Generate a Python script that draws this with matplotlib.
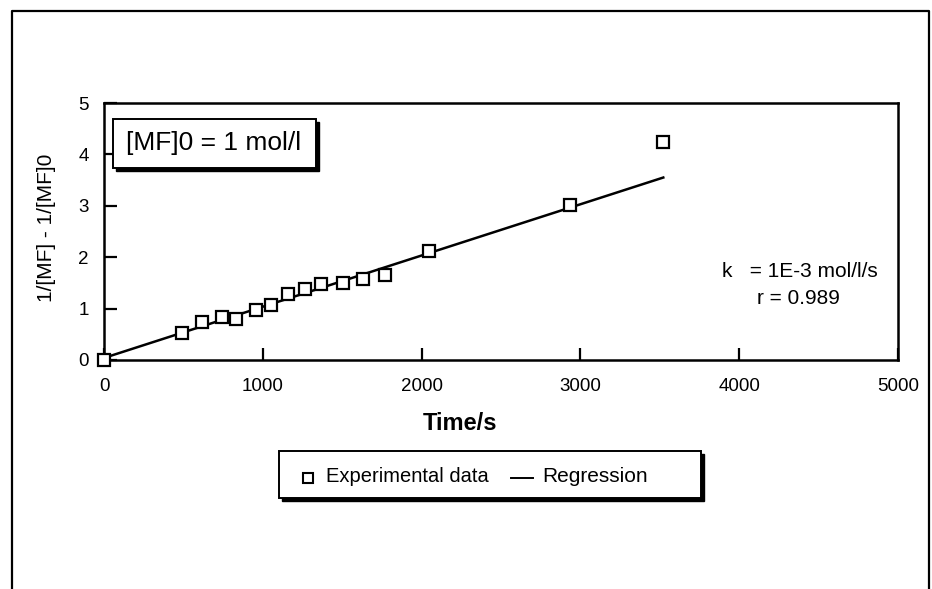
import matplotlib
matplotlib.use("Agg")
import matplotlib.pyplot as plt
from matplotlib.lines import Line2D
from matplotlib.patches import Rectangle

plt.rcParams['font.family'] = ['Liberation Sans', 'DejaVu Sans']

# Data
time_s = [0, 490, 614, 746, 830, 956, 1054, 1159, 1264, 1369, 1505, 1631, 1767, 2046, 2935, 3522]
inv_conc = [0.0, 0.52, 0.73, 0.84, 0.80, 0.97, 1.07, 1.28, 1.38, 1.47, 1.50, 1.58, 1.65, 2.13, 3.02, 4.25]
reg_x = [0, 3522]
reg_y = [0.04, 3.55]
x_ticks = [0, 1000, 2000, 3000, 4000, 5000]
y_ticks = [0, 1, 2, 3, 4, 5]

W, H = 932, 589
fig = plt.figure(figsize=(W / 100, H / 100), dpi=100)
fig.patch.set_facecolor('white')

def fx(px):
    return px / W

def fy(py):
    return 1 - py / H

# outer frame (left, top, right)
fig.add_artist(Line2D([fx(12), fx(12), fx(929), fx(929)], [0, fy(11), fy(11), 0],
                      transform=fig.transFigure, color='black', lw=1.6))

AX_L, AX_R, AX_T, AX_B = 104, 898, 103, 360
ax = fig.add_axes([fx(AX_L), fy(AX_B), fx(AX_R) - fx(AX_L), fy(AX_T) - fy(AX_B)])
ax.plot(reg_x, reg_y, color='black', lw=1.8, zorder=2)
ax.plot(time_s, inv_conc, linestyle='none', marker='s', markersize=9,
        markerfacecolor='white', markeredgecolor='black', markeredgewidth=1.6, zorder=3,
        clip_on=False)
ax.set_xlim(0, 5000)
ax.set_ylim(0, 5)
ax.set_xticks(x_ticks)
ax.set_yticks(y_ticks)
ax.set_xticklabels([str(v) for v in x_ticks])
ax.set_yticklabels([str(v) for v in y_ticks])
ax.tick_params(direction='in', length=9, width=1.6, labelsize=13.5)
ax.tick_params(axis='x', pad=13)
ax.tick_params(axis='y', pad=11)
for s in ax.spines.values():
    s.set_linewidth(1.8)

def ax_x(px):
    return (px - AX_L) / (AX_R - AX_L)

def ax_y(py):
    return (AX_B - py) / (AX_B - AX_T)

ax.set_xlabel('Time/s', fontsize=17, fontweight='bold')
ax.xaxis.label.set_va('center')
ax.xaxis.set_label_coords(ax_x(460), ax_y(423))
ax.set_ylabel('1/[MF] - 1/[MF]0', fontsize=15)
ax.yaxis.label.set_va('center')
ax.yaxis.set_label_coords(ax_x(47), ax_y(228))

# annotation box with shadow
bx0, by0, bx1, by1 = 113, 119, 316, 168
fig.add_artist(Rectangle((fx(bx0 + 3), fy(by1 + 3)), fx(bx1 - bx0), fy(by0) - fy(by1),
                         transform=fig.transFigure, facecolor='black', edgecolor='black', lw=1))
fig.add_artist(Rectangle((fx(bx0), fy(by1)), fx(bx1 - bx0), fy(by0) - fy(by1),
                         transform=fig.transFigure, facecolor='white', edgecolor='black', lw=1.4))
fig.text(fx(214), fy(143), '[MF]0 = 1 mol/l', fontsize=19,
         ha='center', va='center')

fig.text(fx(722), fy(272), 'k   = 1E-3 mol/l/s', fontsize=15, ha='left', va='center')
fig.text(fx(757), fy(299), 'r = 0.989', fontsize=15, ha='left', va='center')

# legend box with shadow
lx0, ly0, lx1, ly1 = 279, 451, 701, 498
fig.add_artist(Rectangle((fx(lx0 + 3), fy(ly1 + 3)), fx(lx1 - lx0), fy(ly0) - fy(ly1),
                         transform=fig.transFigure, facecolor='black', edgecolor='black', lw=1))
fig.add_artist(Rectangle((fx(lx0), fy(ly1)), fx(lx1 - lx0), fy(ly0) - fy(ly1),
                         transform=fig.transFigure, facecolor='white', edgecolor='black', lw=1.4))
fig.add_artist(Line2D([fx(308)], [fy(478)], transform=fig.transFigure, marker='s',
                      markersize=7.5, markerfacecolor='white', markeredgecolor='black',
                      markeredgewidth=1.5, linestyle='none'))
fig.text(fx(326), fy(476), 'Experimental data', fontsize=14.5, ha='left', va='center')
fig.add_artist(Line2D([fx(511), fx(533)], [fy(478), fy(478)], transform=fig.transFigure,
                      color='black', lw=1.4))
fig.text(fx(542), fy(476), 'Regression', fontsize=15, ha='left', va='center')

fig.savefig('out.png', dpi=100)
